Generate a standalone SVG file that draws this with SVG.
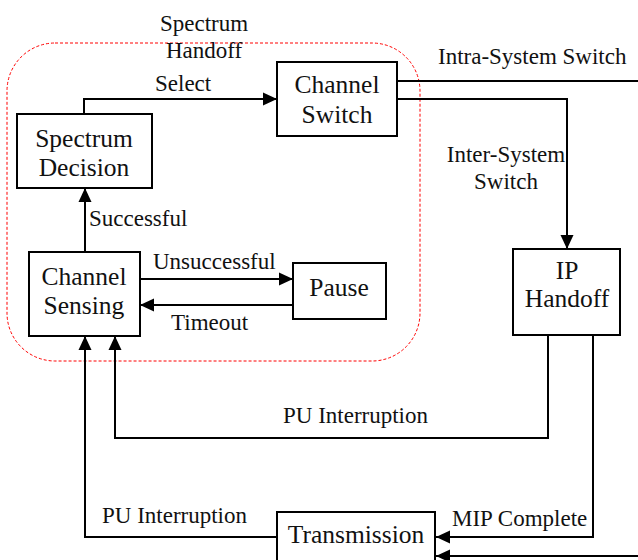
<svg xmlns="http://www.w3.org/2000/svg" width="638" height="560" viewBox="0 0 638 560">
<style>
.box{fill:#fff;stroke:#000;stroke-width:2}
.nt{font-family:"Liberation Serif","Times New Roman",serif;font-size:25.5px;fill:#111;text-anchor:middle}
.lt{font-family:"Liberation Serif","Times New Roman",serif;font-size:23px;fill:#111}
.c{fill:none;stroke:#000;stroke-width:2}
</style>
<defs>
<marker id="ah" markerUnits="userSpaceOnUse" markerWidth="14" markerHeight="14" refX="14" refY="6.5" orient="auto" viewBox="0 0 14 13">
<path d="M0,0 L14,6.5 L0,13 z" fill="#000"/>
</marker>
</defs>
<rect x="0" y="0" width="638" height="560" fill="#fff"/>
<g id="handoff-region">
<rect x="7" y="43" width="413" height="318" rx="48" ry="48" fill="none" stroke="#f00" stroke-width="1" stroke-dasharray="3,2"/>
<text class="lt" x="204" y="31" text-anchor="middle">Spectrum</text>
<text class="lt" x="204" y="58" text-anchor="middle">Handoff</text>
</g>
<g id="connectors">
<path class="c" d="M84,114 V99 H277" marker-end="url(#ah)"/>
<path class="c" d="M85,252 V188" marker-end="url(#ah)"/>
<path class="c" d="M140,279 H293" marker-end="url(#ah)"/>
<path class="c" d="M293,305 H140" marker-end="url(#ah)"/>
<path class="c" d="M397,81 H638"/>
<path class="c" d="M397,99 H567 V249" marker-end="url(#ah)"/>
<path class="c" d="M548,335 V438 H115 V336" marker-end="url(#ah)"/>
<path class="c" d="M593,335 V537 H436" marker-end="url(#ah)"/>
<path class="c" d="M277,537 H85 V336" marker-end="url(#ah)"/>
<path class="c" d="M638,556 H436" marker-end="url(#ah)"/>
<text class="lt" x="155" y="91">Select</text>
<text class="lt" x="89" y="226">Successful</text>
<text class="lt" x="153" y="269">Unsuccessful</text>
<text class="lt" x="171" y="330">Timeout</text>
<text class="lt" x="438" y="64">Intra-System Switch</text>
<text class="lt" x="506" y="162" text-anchor="middle">Inter-System</text>
<text class="lt" x="506" y="189" text-anchor="middle">Switch</text>
<text class="lt" x="283" y="423">PU Interruption</text>
<text class="lt" x="452" y="526">MIP Complete</text>
<text class="lt" x="102" y="523">PU Interruption</text>
</g>
<g id="spectrum-decision">
<rect class="box" x="17" y="114" width="135" height="74"/>
<text class="nt" x="84" y="147">Spectrum</text>
<text class="nt" x="84" y="176">Decision</text>
</g>
<g id="channel-switch">
<rect class="box" x="277" y="62" width="120" height="74"/>
<text class="nt" x="337" y="93">Channel</text>
<text class="nt" x="337" y="123">Switch</text>
</g>
<g id="channel-sensing">
<rect class="box" x="29" y="252" width="111" height="84"/>
<text class="nt" x="84" y="285">Channel</text>
<text class="nt" x="84" y="314">Sensing</text>
</g>
<g id="pause">
<rect class="box" x="293" y="263" width="93" height="56"/>
<text class="nt" x="339" y="296">Pause</text>
</g>
<g id="ip-handoff">
<rect class="box" x="513" y="249" width="107" height="86"/>
<text class="nt" x="567" y="279">IP</text>
<text class="nt" x="567" y="307">Handoff</text>
</g>
<g id="transmission">
<rect class="box" x="277" y="512" width="158" height="60"/>
<text class="nt" x="356" y="543">Transmission</text>
</g>
</svg>
